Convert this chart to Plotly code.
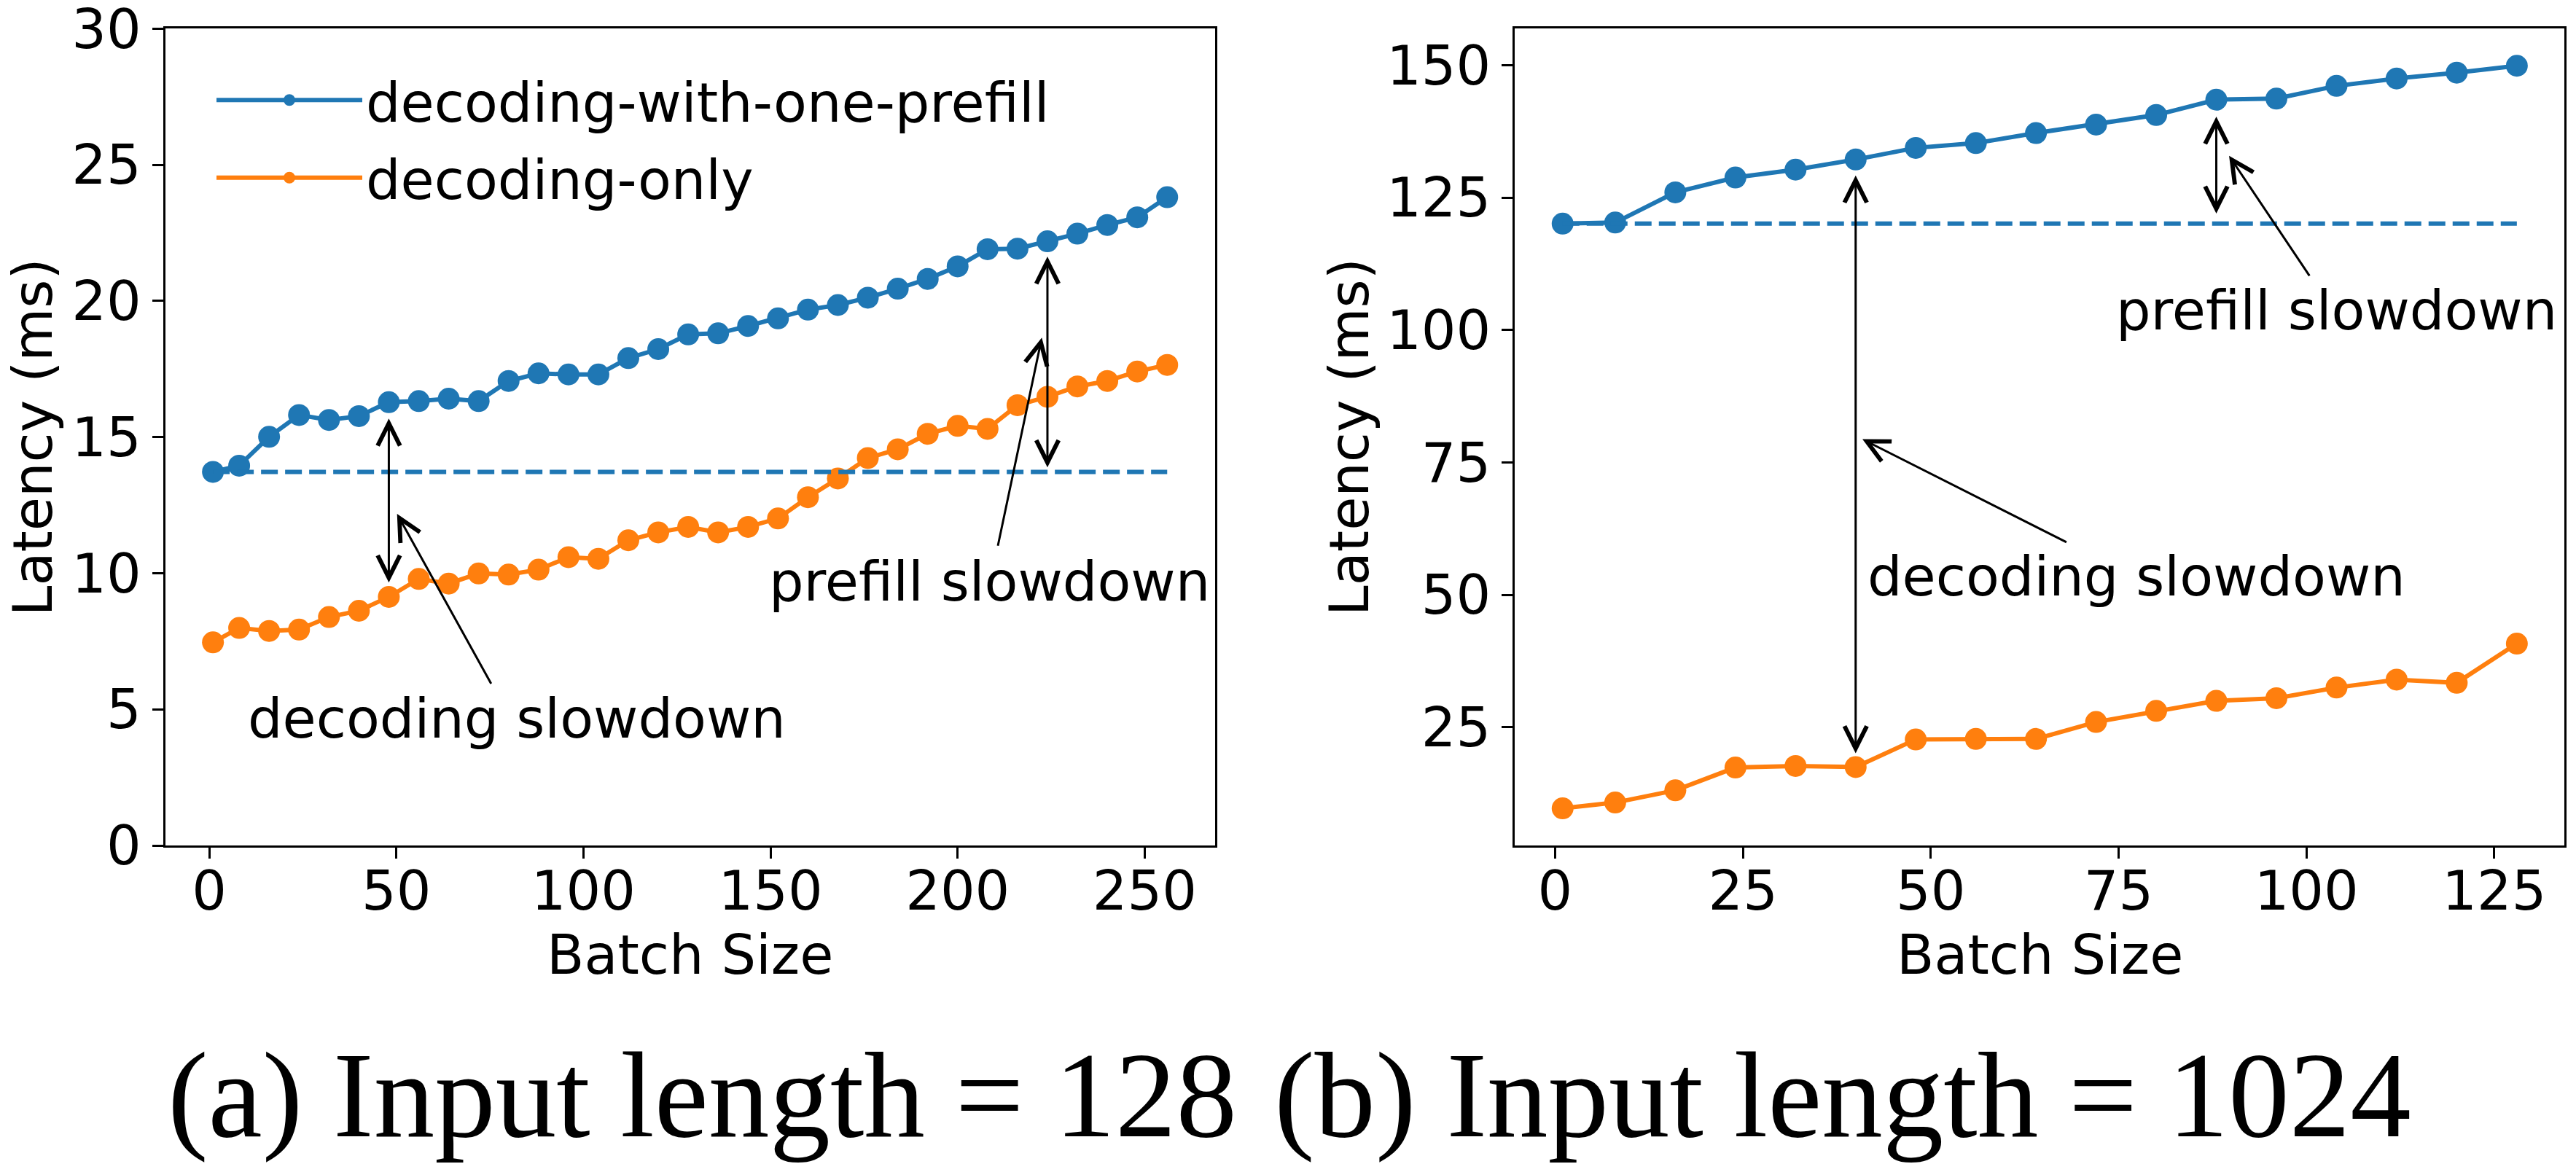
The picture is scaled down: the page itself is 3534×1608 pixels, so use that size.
import plotly.graph_objects as go

# ---------------- data ----------------
batch_a = [1, 8, 16, 24, 32, 40, 48, 56, 64, 72, 80, 88, 96, 104, 112, 120, 128,
           136, 144, 152, 160, 168, 176, 184, 192, 200, 208, 216, 224, 232, 240, 248, 256]
with_prefill_a = [13.72, 13.95, 15.01, 15.81, 15.63, 15.77, 16.28, 16.32, 16.41, 16.32, 17.06,
                  17.34, 17.30, 17.30, 17.90, 18.23, 18.77, 18.81, 19.08, 19.36, 19.68, 19.85,
                  20.12, 20.45, 20.81, 21.27, 21.90, 21.92, 22.19, 22.47, 22.79, 23.07, 23.81]
decode_only_a = [7.46, 7.99, 7.88, 7.93, 8.39, 8.62, 9.13, 9.79, 9.62, 9.99, 9.95,
                 10.13, 10.59, 10.53, 11.21, 11.50, 11.70, 11.50, 11.70, 12.01, 12.79, 13.48,
                 14.23, 14.55, 15.12, 15.41, 15.30, 16.17, 16.48, 16.86, 17.06, 17.41, 17.65]

batch_b = [1, 8, 16, 24, 32, 40, 48, 56, 64, 72, 80, 88, 96, 104, 112, 120, 128]
with_prefill_b = [120.1, 120.3, 126.0, 128.8, 130.3, 132.2, 134.4, 135.3, 137.2, 138.8,
                  140.6, 143.5, 143.7, 146.1, 147.5, 148.6, 149.9]
decode_only_b = [9.7, 10.8, 13.1, 17.4, 17.7, 17.5, 22.7, 22.8, 22.8, 26.0,
                 28.1, 30.0, 30.5, 32.5, 34.0, 33.4, 40.8]

series_names = ["decoding-with-one-prefill", "decoding-only"]
xticks_a = [0, 50, 100, 150, 200, 250]
yticks_a = [0, 5, 10, 15, 20, 25, 30]
xticks_b = [0, 25, 50, 75, 100, 125]
yticks_b = [25, 50, 75, 100, 125, 150]
caption_a = "(a) Input length = 128"
caption_b = "(b) Input length = 1024"

# ---------------- style ----------------
W, H = 3534, 1608
BLUE = "#1f77b4"
ORANGE = "#ff7f0e"
FONT = "DejaVu Sans"
FS = 75
LW = 6
MS = 30

fig = go.Figure()

def add_series(x, y1, y2, xa, ya, show):
    fig.add_trace(go.Scatter(x=x, y=y1, mode="lines+markers", name=series_names[0],
                             line=dict(color=BLUE, width=LW), marker=dict(size=MS, color=BLUE),
                             xaxis=xa, yaxis=ya, showlegend=show, legendgroup="g1"))
    fig.add_trace(go.Scatter(x=x, y=y2, mode="lines+markers", name=series_names[1],
                             line=dict(color=ORANGE, width=LW), marker=dict(size=MS, color=ORANGE),
                             xaxis=xa, yaxis=ya, showlegend=show, legendgroup="g2"))
    # baseline: decoding-with-one-prefill latency at the first batch size
    fig.add_trace(go.Scatter(x=[x[0], x[-1]], y=[y1[0], y1[0]], mode="lines",
                             line=dict(color=BLUE, width=LW, dash="23px,10px"),
                             xaxis=xa, yaxis=ya, showlegend=False, hoverinfo="skip"))

add_series(batch_a, with_prefill_a, decode_only_a, "x", "y", True)
add_series(batch_b, with_prefill_b, decode_only_b, "x2", "y2", False)

ydom = [1 - 1160 / H, 1 - 39.3 / H]
axis_common = dict(showline=True, linecolor="black", linewidth=3, mirror=True,
                   ticks="outside", ticklen=15, tickwidth=3, tickcolor="black",
                   showgrid=False, zeroline=False, automargin=False,
                   tickfont=dict(family=FONT, size=FS, color="black"))

fig.update_layout(
    width=W, height=H, autosize=False,
    margin=dict(l=0, r=0, t=0, b=0, pad=0, autoexpand=False),
    paper_bgcolor="white", plot_bgcolor="white",
    font=dict(family=FONT, size=FS, color="black"),
    xaxis=dict(domain=[226.7 / W, 1666.7 / W], range=[-11.75, 268.75],
               tickmode="array", tickvals=xticks_a, anchor="y", ticklabelstandoff=-20,
               **axis_common),
    yaxis=dict(domain=ydom, range=[0, 30.001], tickmode="array", tickvals=yticks_a,
               anchor="x", ticklabeloverflow="allow", **axis_common),
    xaxis2=dict(domain=[2078.3 / W, 3518.3 / W], range=[-5.35, 134.35],
                tickmode="array", tickvals=xticks_b, anchor="y2", ticklabelstandoff=-20,
                **axis_common),
    yaxis2=dict(domain=ydom, range=[2.69, 156.91], tickmode="array", tickvals=yticks_b,
                anchor="x2", **axis_common),
    legend=dict(x=292 / W, y=1 - 82 / H, xanchor="left", yanchor="top",
                bgcolor="rgba(0,0,0,0)", borderwidth=0, itemwidth=200,
                tracegroupgap=6, itemsizing="trace",
                font=dict(family=FONT, size=FS, color="black")),
)

ann = []

def text_ann(txt, x, y, xr, yr):
    ann.append(dict(text=txt, x=x, y=y, xref=xr, yref=yr, showarrow=False,
                    xanchor="center", yanchor="middle",
                    font=dict(family=FONT, size=FS, color="black")))

def arrow_ann(x, y, ax, ay, xr, yr, both=False):
    ann.append(dict(text="", x=x, y=y, ax=ax, ay=ay, xref=xr, yref=yr, axref=xr, ayref=yr,
                    showarrow=True, arrowhead=5, startarrowhead=5, arrowsize=2.0,
                    startarrowsize=2.0, arrowwidth=3, arrowcolor="black",
                    arrowside="end+start" if both else "end", standoff=0, startstandoff=0))

# panel (a)
arrow_ann(48, 15.68, 48, 9.62, "x", "y", both=True)
arrow_ann(50.2, 12.18, 75.5, 5.9, "x", "y")
text_ann("decoding slowdown", 82.2, 4.67, "x", "y")
arrow_ann(224, 21.63, 224, 13.85, "x", "y", both=True)
arrow_ann(222.5, 18.65, 210.7, 10.97, "x", "y")
text_ann("prefill slowdown", 208.5, 9.68, "x", "y")

# panel (b)
arrow_ann(40, 129.2, 40, 19.9, "x2", "y2", both=True)
arrow_ann(40.9, 79.4, 68.2, 59.85, "x2", "y2")
text_ann("decoding slowdown", 77.4, 53.5, "x2", "y2")
arrow_ann(88, 140.3, 88, 121.8, "x2", "y2", both=True)
arrow_ann(89.7, 132.9, 100.5, 110.05, "x2", "y2")
text_ann("prefill slowdown", 104.0, 103.7, "x2", "y2")

# axis titles
for xc in [946.7, 2798.3]:
    ann.append(dict(text="Batch Size", x=xc / W, y=1 - 1309.7 / H, xref="paper", yref="paper",
                    showarrow=False, xanchor="center", yanchor="middle",
                    font=dict(family=FONT, size=FS, color="black")))
for xc in [45.3, 1851]:
    ann.append(dict(text="Latency (ms)", x=xc / W, y=1 - 600 / H, xref="paper", yref="paper",
                    showarrow=False, xanchor="center", yanchor="middle", textangle=-90,
                    font=dict(family=FONT, size=FS, color="black")))

# captions
CFONT = "Liberation Serif"
CFS = 167
ann.append(dict(text=caption_a, x=963.5 / W, y=1 - 1502 / H, xref="paper", yref="paper",
                showarrow=False, xanchor="center", yanchor="middle",
                font=dict(family=CFONT, size=CFS, color="black")))
ann.append(dict(text=caption_b, x=2528 / W, y=1 - 1502 / H, xref="paper", yref="paper",
                showarrow=False, xanchor="center", yanchor="middle",
                font=dict(family=CFONT, size=CFS, color="black")))

fig.update_layout(annotations=ann)
fig.write_html("out.html")
